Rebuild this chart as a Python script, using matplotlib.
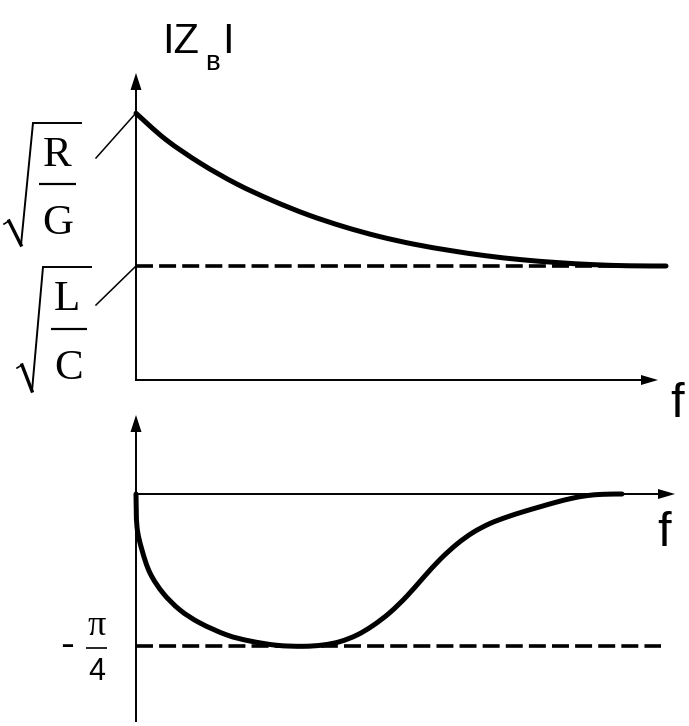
import matplotlib
matplotlib.use("Agg")
import matplotlib.pyplot as plt
from matplotlib.path import Path
from matplotlib.patches import PathPatch
import numpy as np

# ---------------- data ----------------
# top panel: |Z_в| vs f (units: sqrt(L/C) = 1)
f_top = [0, 0.056, 0.122, 0.19, 0.257, 0.324, 0.392, 0.458, 0.526, 0.594,
         0.66, 0.728, 0.795, 0.862, 0.93, 1.0]
z_top = [2.34, 2.11, 1.90, 1.72, 1.575, 1.45, 1.345, 1.26, 1.19, 1.135,
         1.09, 1.055, 1.03, 1.012, 1.002, 1.0]
z_inf = 1.0            # sqrt(L/C) asymptote

# bottom panel: phase vs f (radians)
f_bot = [0, 0.0019, 0.0113, 0.0264, 0.0509, 0.0830, 0.1208, 0.1717, 0.2151, 0.2660,
         0.3151, 0.3528, 0.3849, 0.4170, 0.4472, 0.4792, 0.5113, 0.5415, 0.5736, 0.6057,
         0.6358, 0.6679, 0.7000, 0.7302, 0.7623, 0.7943, 0.8226, 0.8509, 0.8811, 0.9170]
phi_bot = [0, -0.1705, -0.2894, -0.4082, -0.5116, -0.5994, -0.6666, -0.7286, -0.7596, -0.7818,
           -0.7870, -0.7802, -0.7627, -0.7286, -0.6795, -0.6123, -0.5271, -0.4340, -0.3384, -0.2584,
           -0.1989, -0.1524, -0.1188, -0.0920, -0.0661, -0.0413, -0.0222, -0.0083, -0.0016, 0.0]
phi_lim = -np.pi / 4

# ---------------- figure ----------------
W, H = 689, 726
fig = plt.figure(figsize=(W / 100, H / 100), dpi=100)
fig.patch.set_facecolor("white")

deco = fig.add_axes([0, 0, 1, 1])
deco.set_xlim(0, W)
deco.set_ylim(H, 0)
deco.axis("off")

x0 = 136
fx = 530.0
top_y0, top_s = 380, 114.0
bot_y0, bot_s = 494, 152.0 / (np.pi / 4)

ax_top = fig.add_axes([0, 0, 1, 1], facecolor="none")
ax_top.set_xlim((0 - x0) / fx, (W - x0) / fx)
ax_top.set_ylim((top_y0 - H) / top_s, (top_y0 - 0) / top_s)
ax_top.axis("off")

ax_bot = fig.add_axes([0, 0, 1, 1], facecolor="none")
ax_bot.set_xlim((0 - x0) / fx, (W - x0) / fx)
ax_bot.set_ylim((bot_y0 - H) / bot_s, (bot_y0 - 0) / bot_s)
ax_bot.axis("off")

K = "black"
axis_lw = 1.4


def smooth_line(ax, xs, ys, **kw):
    """Draw a smooth Bezier path passing through the given points."""
    p = np.column_stack([xs, ys]).astype(float)
    n = len(p)
    ext = np.vstack([p[0], p, p[-1]])
    verts = [tuple(p[0])]
    codes = [Path.MOVETO]
    for i in range(n - 1):
        pm, a, b, pp = ext[i], ext[i + 1], ext[i + 2], ext[i + 3]
        c1 = a + (b - pm) / 6.0
        c2 = b - (pp - a) / 6.0
        verts += [tuple(c1), tuple(c2), tuple(b)]
        codes += [Path.CURVE4] * 3
    patch = PathPatch(Path(verts, codes), facecolor="none", **kw)
    ax.add_patch(patch)


def arrow_v(x, y_from, y_to):
    deco.plot([x, x], [y_from, y_to + 8], color=K, lw=axis_lw, solid_capstyle="butt")
    deco.fill([x, x - 5.5, x + 5.5], [y_to, y_to + 17, y_to + 17], color=K, lw=0)


def arrow_h(y, x_from, x_to):
    deco.plot([x_from, x_to - 8], [y, y], color=K, lw=axis_lw, solid_capstyle="butt")
    deco.fill([x_to, x_to - 17, x_to - 17], [y, y - 5, y + 5], color=K, lw=0)


arrow_v(136, 381, 73)
arrow_h(380, 135, 658)
arrow_v(136, 722, 415)
arrow_h(494, 136, 675)

# ---------------- curves ----------------
ax_top.plot([0, 1.0], [z_inf, z_inf], color=K, lw=2.6, dashes=(4.7, 1.7),
            dash_capstyle="butt")
smooth_line(ax_top, f_top, z_top, edgecolor=K, lw=3.6, capstyle="round",
            joinstyle="round")

ax_bot.plot([0, 0.99], [phi_lim, phi_lim], color=K, lw=2.6, dashes=(4.7, 1.7),
            dash_capstyle="butt")
smooth_line(ax_bot, f_bot, phi_bot, edgecolor=K, lw=3.6, capstyle="round",
            joinstyle="round")

# ---------------- text ----------------
sans = "Liberation Sans"
serif = "Liberation Serif"

deco.text(162, 53, "IZ", fontsize=30, family=sans, ha="left", va="baseline")
deco.text(205, 70, "в", fontsize=20, family=sans, ha="left", va="baseline")
deco.text(222, 53, "I", fontsize=30, family=sans, ha="left", va="baseline")

deco.text(670, 417, "f", fontsize=35, family=sans, ha="left", va="baseline")
deco.text(657, 546, "f", fontsize=35, family=sans, ha="left", va="baseline")

# sqrt(R/G)
deco.text(57, 166, "R", fontsize=31, family=serif, ha="center", va="baseline")
deco.text(57.5, 234, "G", fontsize=31, family=serif, ha="center", va="baseline")
deco.plot([39, 76], [184, 184], color=K, lw=1.6, solid_capstyle="butt")
deco.plot([4, 9], [224, 221], color=K, lw=1.2)
deco.plot([9, 21], [221, 245], color=K, lw=2.4)
deco.plot([21, 33, 81], [245, 123, 123], color=K, lw=1.4, solid_joinstyle="miter")

# sqrt(L/C)
deco.text(66.5, 310, "L", fontsize=31, family=serif, ha="center", va="baseline")
deco.text(68.5, 379, "C", fontsize=31, family=serif, ha="center", va="baseline")
deco.plot([51, 87], [329, 329], color=K, lw=1.6, solid_capstyle="butt")
deco.plot([17, 22], [368, 365], color=K, lw=1.2)
deco.plot([22, 32], [365, 391], color=K, lw=2.4)
deco.plot([32, 43, 91], [391, 267, 267], color=K, lw=1.4, solid_joinstyle="miter")

# leader lines
deco.plot([96, 136], [158, 113], color=K, lw=1.1)
deco.plot([96, 136], [305, 266], color=K, lw=1.1)

# - pi/4
deco.text(67.5, 657, "-", fontsize=30, family=sans, ha="center", va="baseline")
deco.text(96.5, 635, "π", fontsize=26, family=serif, ha="center", va="baseline")
deco.plot([86, 107], [648, 648], color=K, lw=1.2, solid_capstyle="butt")
deco.text(97, 680, "4", fontsize=22, family=sans, ha="center", va="baseline")

fig.savefig("out.png", dpi=100, facecolor="white")
